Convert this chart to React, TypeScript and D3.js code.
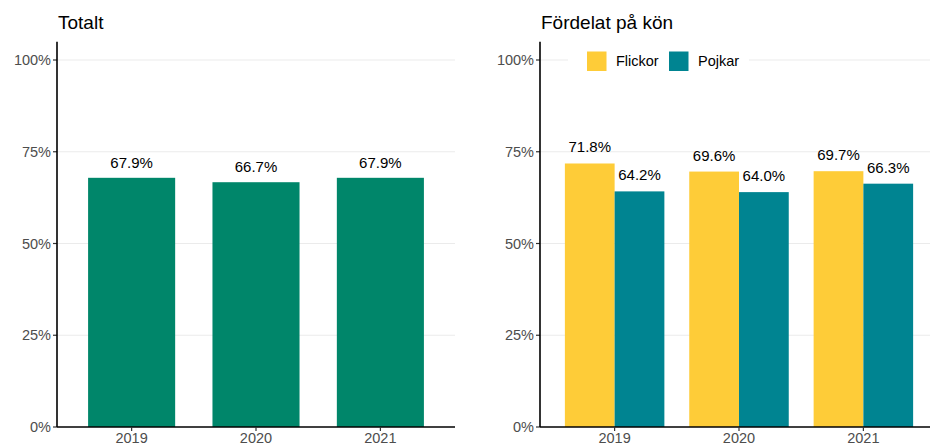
import React from 'react';
import * as d3 from 'd3';

// data
const years = ['2019', '2020', '2021'];
const totalt = [67.9, 66.7, 67.9];
const flickor = [71.8, 69.6, 69.7];
const pojkar = [64.2, 64.0, 66.3];
const groups = ['Flickor', 'Pojkar'];
const yTicks = [0, 25, 50, 75, 100];

const W = 930;
const H = 447;
const FONT = '"Liberation Sans", Arial, sans-serif';
const GREEN = '#00866A';
const COLORS = ['#FECC38', '#008491'];

const fmt = (v: number) => `${v.toFixed(1)}%`;

const y = d3.scaleLinear().domain([0, 105]).range([427, 41.65]);

function YAxis({ x0, x1 }: { x0: number; x1: number }) {
  return (
    <g>
      {yTicks.filter(t => t > 0).map(t => (
        <line key={t} x1={x0} x2={x1} y1={y(t)} y2={y(t)} stroke="#ebebeb" strokeWidth={1} />
      ))}
      {yTicks.map(t => (
        <g key={t}>
          <line x1={x0 - 4} x2={x0} y1={y(t)} y2={y(t)} stroke="#333" strokeWidth={1.2} />
          <text x={x0 - 6} y={y(t)} dy="0.36em" textAnchor="end" fontSize={14.5} fill="#4d4d4d">
            {t}%
          </text>
        </g>
      ))}
      <line x1={x0} x2={x0} y1={y(105)} y2={y(0)} stroke="#000" strokeWidth={1.6} />
    </g>
  );
}

function XAxis({ x0, x1, xs }: { x0: number; x1: number; xs: d3.ScaleBand<string> }) {
  return (
    <g>
      <line x1={x0} x2={x1} y1={y(0)} y2={y(0)} stroke="#000" strokeWidth={1.6} />
      {years.map(yr => {
        const cx = (xs(yr) ?? 0) + xs.bandwidth() / 2;
        return (
          <g key={yr}>
            <line x1={cx} x2={cx} y1={y(0)} y2={y(0) + 4} stroke="#333" strokeWidth={1.2} />
            <text x={cx} y={443} textAnchor="middle" fontSize={14.5} fill="#4d4d4d">{yr}</text>
          </g>
        );
      })}
    </g>
  );
}

export default function App() {
  // left panel
  const lx0 = 57, lx1 = 455;
  const xl = d3.scaleBand().domain(years).range([lx0, lx1]).paddingInner(0.3).paddingOuter(0.25);

  // right panel (cropped at the image edge)
  const rx0 = 540, rx1 = 938;
  const xr = d3.scaleBand().domain(years).range([rx0, rx1]).paddingInner(0.2).paddingOuter(0.2);
  const xg = d3.scaleBand().domain(groups).range([0, xr.bandwidth()]);
  const series = [flickor, pojkar];

  return (
    <svg width={W} height={H} style={{ position: 'absolute', left: 0, top: 0, background: '#fff' }} fontFamily={FONT}>
      <rect width={W} height={H} fill="#fff" />

      {/* Totalt */}
      <text x={58} y={29} fontSize={19} fill="#000">Totalt</text>
      <YAxis x0={lx0} x1={lx1} />
      {years.map((yr, i) => (
        <g key={yr}>
          <rect x={xl(yr)} y={y(totalt[i])} width={xl.bandwidth()} height={y(0) - y(totalt[i])} fill={GREEN} />
          <text x={(xl(yr) ?? 0) + xl.bandwidth() / 2} y={y(totalt[i]) - 10} textAnchor="middle" fontSize={15} fill="#000">
            {fmt(totalt[i])}
          </text>
        </g>
      ))}
      <XAxis x0={lx0} x1={lx1} xs={xl} />

      {/* Fördelat på kön */}
      <text x={541} y={29} fontSize={19} fill="#000">Fördelat på kön</text>
      <YAxis x0={rx0} x1={rx1} />
      {years.map((yr, i) => (
        <g key={yr}>
          {series.map((s, j) => {
            const bx = (xr(yr) ?? 0) + (xg(groups[j]) ?? 0);
            return (
              <g key={j}>
                <rect x={bx} y={y(s[i])} width={xg.bandwidth()} height={y(0) - y(s[i])} fill={COLORS[j]} />
                <text x={bx + xg.bandwidth() / 2} y={y(s[i]) - 11} textAnchor="middle" fontSize={15} fill="#000">
                  {fmt(s[i])}
                </text>
              </g>
            );
          })}
        </g>
      ))}
      <XAxis x0={rx0} x1={rx1} xs={xr} />

      {/* legend */}
      <g>
        <rect x={568} y={44} width={181} height={34} fill="#fff" />
        {groups.map((g, j) => {
          const lx = j === 0 ? 587 : 669;
          return (
            <g key={g}>
              <rect x={lx} y={51.5} width={19.5} height={19.5} fill={COLORS[j]} />
              <text x={lx + 29} y={66} fontSize={14.5} fill="#000">{g}</text>
            </g>
          );
        })}
      </g>
    </svg>
  );
}
